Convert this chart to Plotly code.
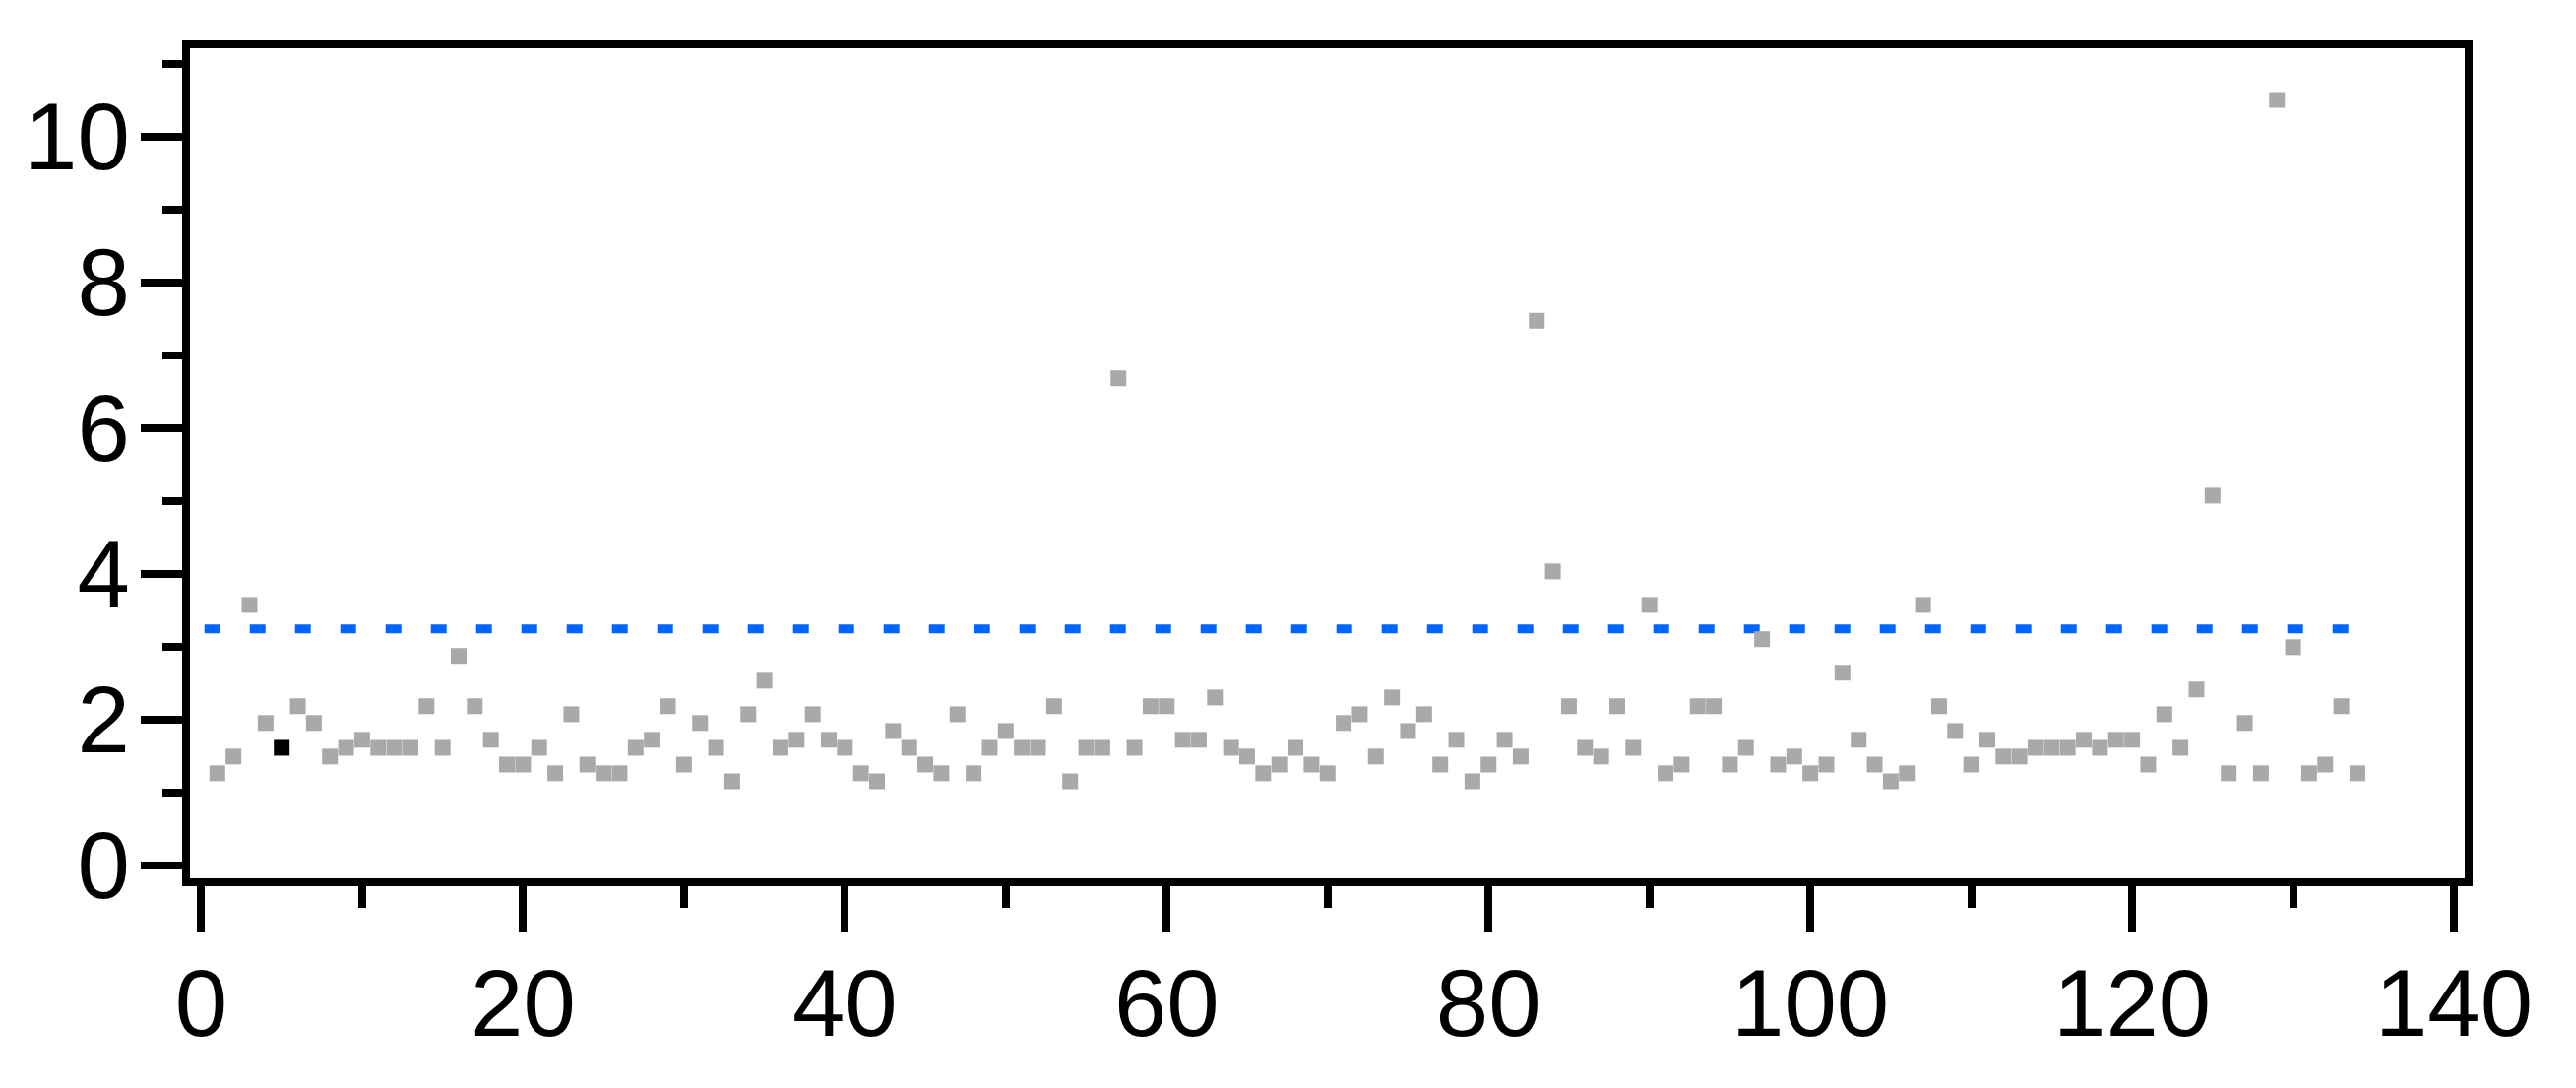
import plotly.graph_objects as go

# ---- data ----
values = [
    1.26, 1.49, 3.57, 1.95, 1.61, 2.18, 1.95, 1.49, 1.61, 1.72,
    1.61, 1.61, 1.61, 2.18, 1.61, 2.87, 2.18, 1.72, 1.38, 1.38,
    1.61, 1.26, 2.07, 1.38, 1.26, 1.26, 1.61, 1.72, 2.18, 1.38,
    1.95, 1.61, 1.15, 2.07, 2.53, 1.61, 1.72, 2.07, 1.72, 1.61,
    1.26, 1.15, 1.84, 1.61, 1.38, 1.26, 2.07, 1.26, 1.61, 1.84,
    1.61, 1.61, 2.18, 1.15, 1.61, 1.61, 6.68, 1.61, 2.18, 2.18,
    1.72, 1.72, 2.30, 1.61, 1.49, 1.26, 1.38, 1.61, 1.38, 1.26,
    1.95, 2.07, 1.49, 2.30, 1.84, 2.07, 1.38, 1.72, 1.15, 1.38,
    1.72, 1.49, 7.47, 4.03, 2.18, 1.61, 1.49, 2.18, 1.61, 3.57,
    1.26, 1.38, 2.18, 2.18, 1.38, 1.61, 3.10, 1.38, 1.49, 1.26,
    1.38, 2.64, 1.72, 1.38, 1.15, 1.26, 3.57, 2.18, 1.84, 1.38,
    1.72, 1.49, 1.49, 1.61, 1.61, 1.61, 1.72, 1.61, 1.72, 1.72,
    1.38, 2.07, 1.61, 2.41, 5.07, 1.26, 1.95, 1.26, 10.50, 2.99,
    1.26, 1.38, 2.18, 1.26,
]
index = list(range(1, len(values) + 1))
highlight_index = 5               # the single black point
threshold_value = 3.24            # blue dotted line
threshold_x = [0.2, 134]

x_tick_vals = [0, 20, 40, 60, 80, 100, 120, 140]
y_tick_vals = [0, 2, 4, 6, 8, 10]

# ---- figure ----
gray_x = [i for i in index if i != highlight_index]
gray_y = [v for i, v in zip(index, values) if i != highlight_index]

fig = go.Figure()
fig.add_trace(go.Scatter(
    x=threshold_x, y=[threshold_value] * len(threshold_x),
    mode="lines",
    line=dict(color="#0066FF", width=9, dash="16px,30px"),
    hoverinfo="skip", showlegend=False,
))
fig.add_trace(go.Scatter(
    x=gray_x, y=gray_y, mode="markers",
    marker=dict(symbol="square", size=16, color="#A9A9A9", line=dict(width=0)),
    showlegend=False,
))
fig.add_trace(go.Scatter(
    x=[highlight_index], y=[values[highlight_index - 1]], mode="markers",
    marker=dict(symbol="square", size=16, color="#000000", line=dict(width=0)),
    showlegend=False,
))

tick_font = dict(family="Liberation Sans, Arial, sans-serif", size=96, color="black")

# the page body has an 8px default margin, so the figure is 8px smaller
fig.update_layout(
    width=2609, height=1097,
    margin=dict(l=185, r=113, t=41, b=213),
    paper_bgcolor="white", plot_bgcolor="white",
    showlegend=False,
    xaxis=dict(
        range=[-0.70, 140.67],
        tickmode="array", tickvals=x_tick_vals,
        ticks="outside", ticklen=47, tickwidth=8, tickcolor="black",
        minor=dict(tickmode="linear", tick0=0, dtick=10, ticks="outside",
                   ticklen=22, tickwidth=8, tickcolor="black", showgrid=False),
        showline=True, linewidth=8, linecolor="black", mirror=True,
        showgrid=False, zeroline=False, automargin=False,
        tickfont=tick_font, ticklabelstandoff=-10,
    ),
    yaxis=dict(
        range=[-0.181, 11.21],
        tickmode="array", tickvals=y_tick_vals,
        ticks="outside", ticklen=42, tickwidth=8, tickcolor="black",
        minor=dict(tickmode="linear", tick0=1, dtick=1, ticks="outside",
                   ticklen=20, tickwidth=8, tickcolor="black", showgrid=False),
        showline=True, linewidth=8, linecolor="black", mirror=True,
        showgrid=False, zeroline=False, automargin=False,
        tickfont=tick_font, ticklabelstandoff=-8,
    ),
)

fig.write_html("out.html", config={"displayModeBar": False})
